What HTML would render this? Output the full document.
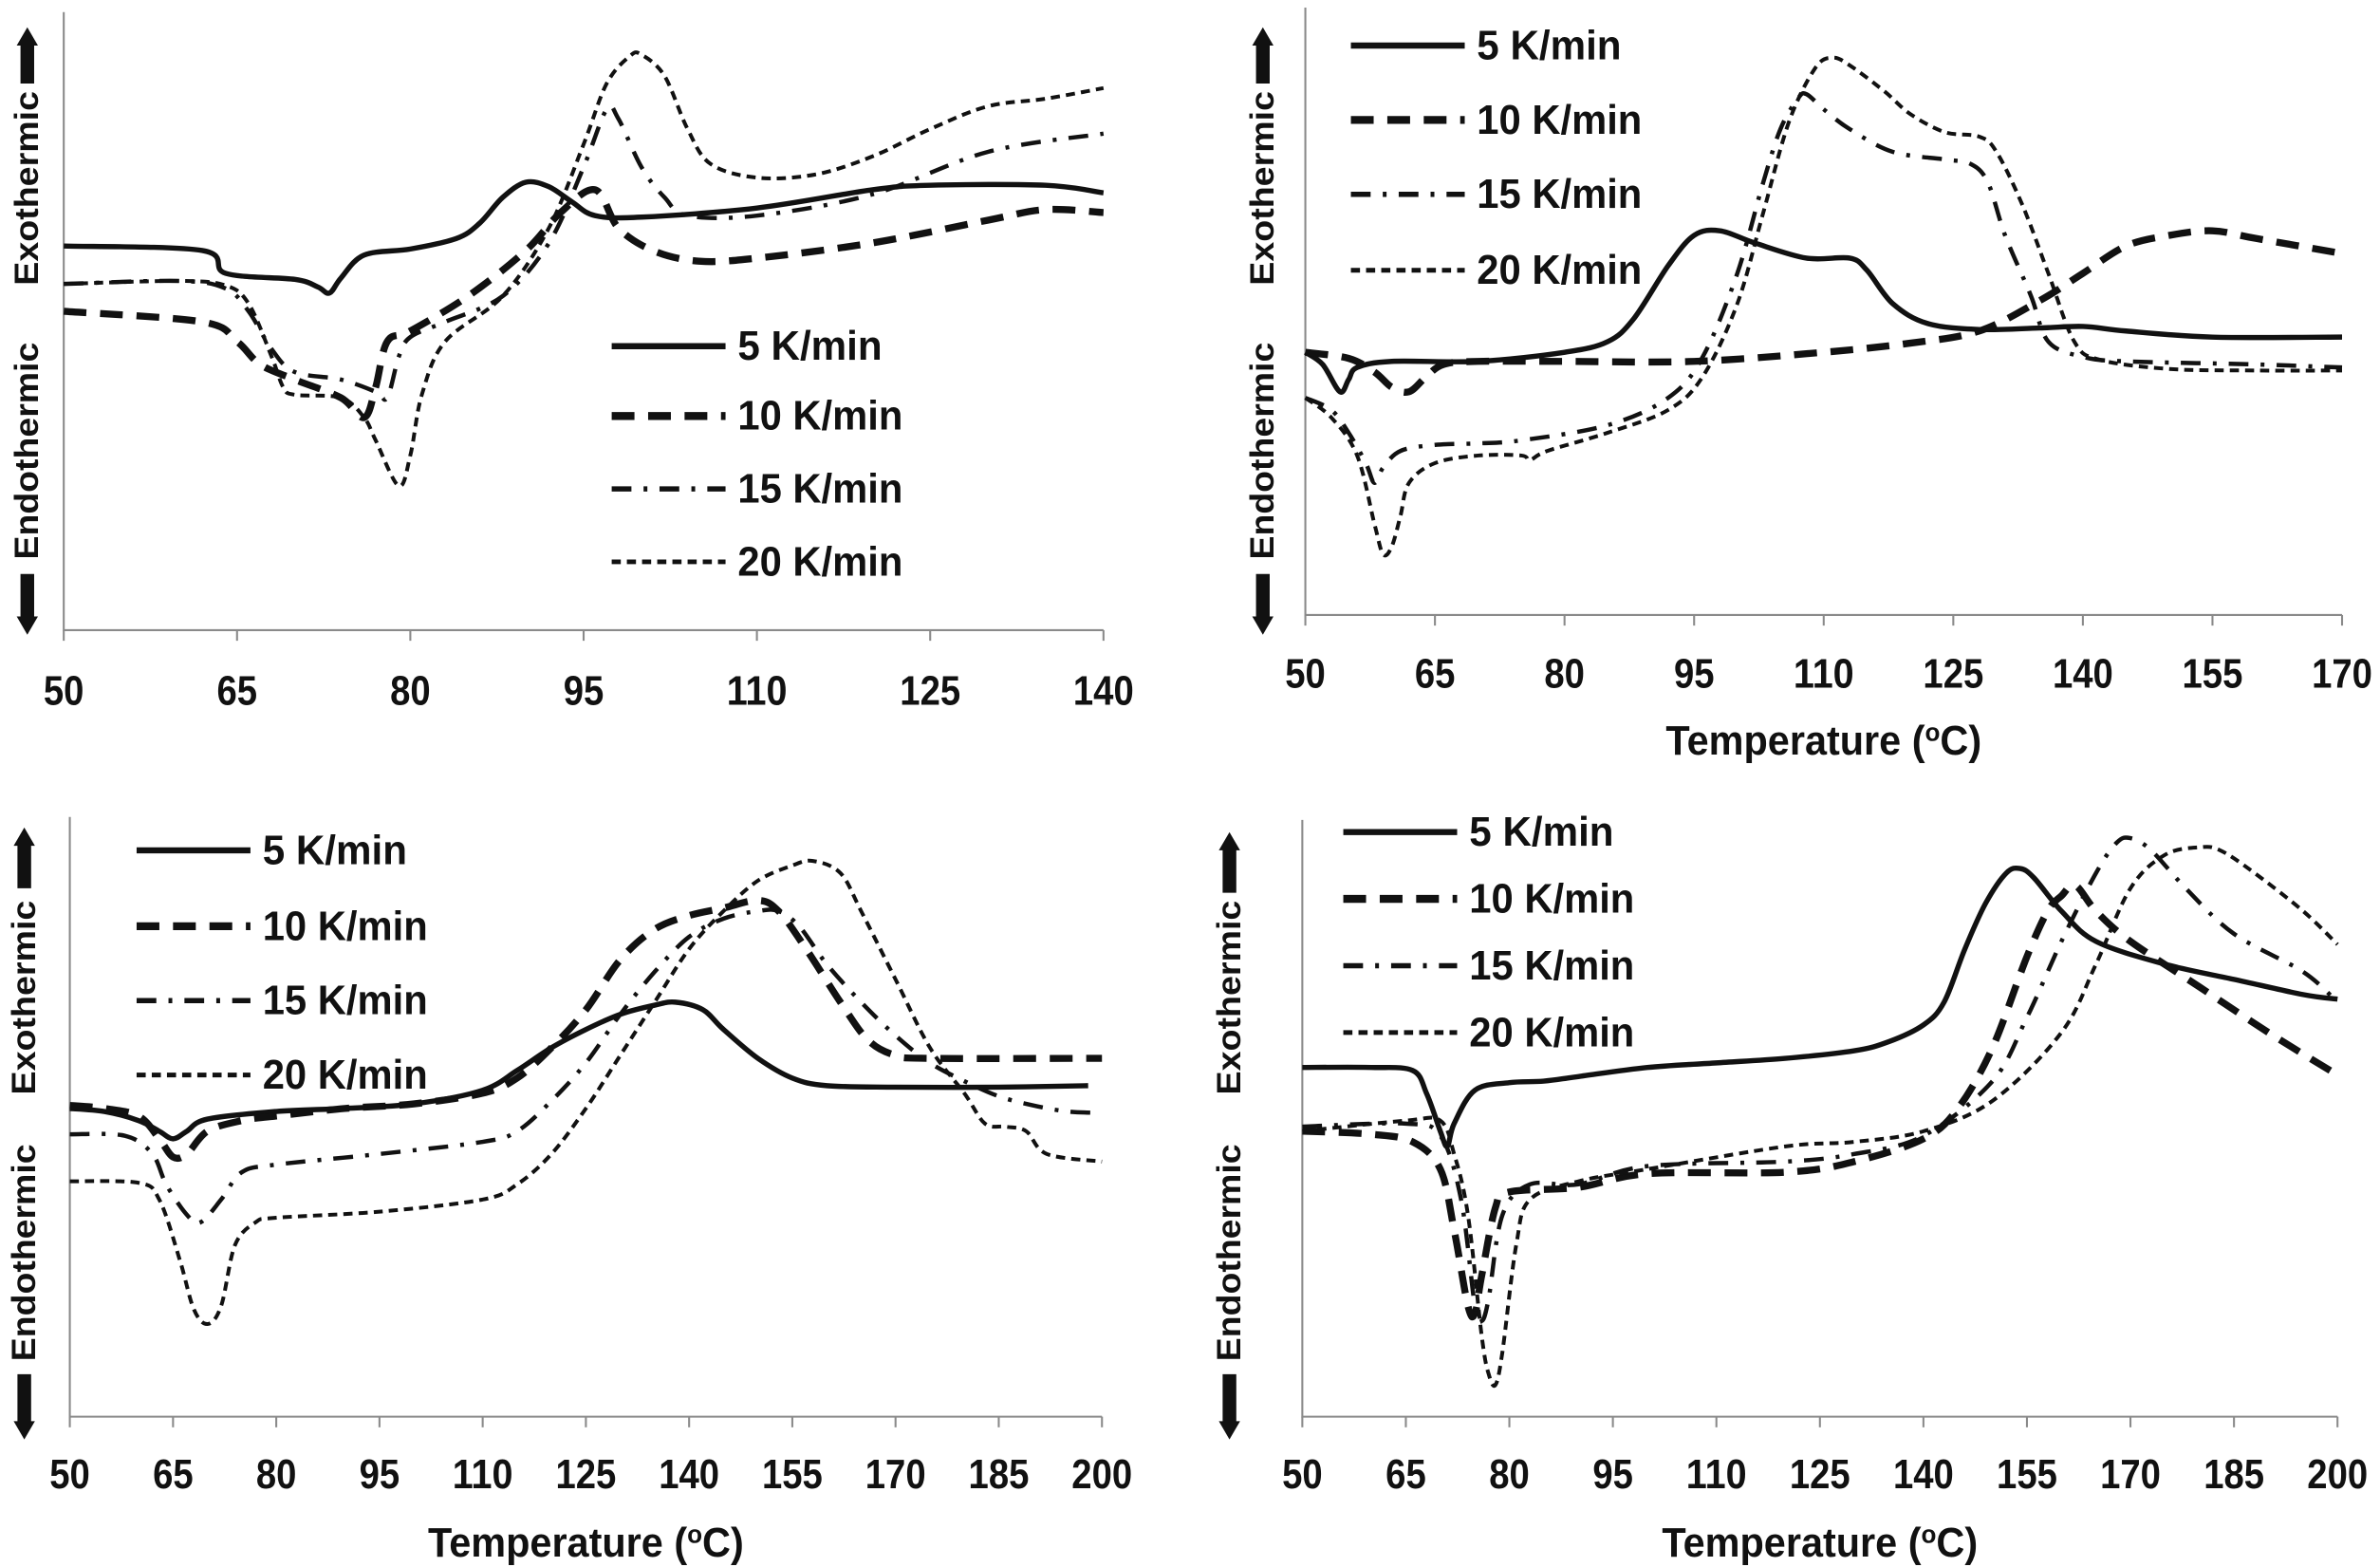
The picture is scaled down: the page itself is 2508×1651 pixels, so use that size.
<!DOCTYPE html>
<html><head><meta charset="utf-8"><style>
html,body{margin:0;padding:0;background:#fff;}
svg{display:block;}
text{font-family:"Liberation Sans",sans-serif;font-weight:bold;fill:#111;}
</style></head><body>
<svg id="fig" width="2508" height="1651" viewBox="0 0 1568 1032" preserveAspectRatio="none" xmlns="http://www.w3.org/2000/svg"></svg>
<script>
// ---- Panel A data (heat flow in arbitrary units, temperature in °C) ----
const a_t5=[50,62,64,70,72,73,74,76,80,84,86,88,90,92,94,96,100,110,120,125,135,140];
const a_v5=[253,250,235,231,226,222,232,247,251,258,268,285,295,292,282,273,272,278,290,293,293,288];
const a_t10=[50,62,65,67,70,74,76,77,78,80,85,90,93,96,98,101,105,110,120,130,135,140];
const a_v10=[210,203,190,175,165,153,140,160,190,197,220,250,275,290,265,250,243,245,255,270,277,275];
const a_t15=[50,60,64,66,68,70,74,77,78,79,80,83,88,92,95,97,98,100,102,104,110,120,130,140];
const a_v15=[228,230,225,210,185,170,165,157,153,180,193,203,220,255,305,343,337,305,285,273,273,287,315,327];
const a_t20=[50,60,64,66,68,69,70,74,76,77,79,80,81,83,88,92,95,97,99,100,102,104,106,110,115,120,125,130,135,140];
const a_v20=[228,230,227,215,180,160,155,153,140,125,95,115,155,190,220,265,320,360,378,379,365,330,307,298,300,312,330,345,350,357];
// ---- Panel B ----
const b_t5=[50,52,54,55,56,60,70,80,85,88,92,95,98,102,108,113,115,118,122,128,135,140,145,155,170];
const b_v5=[173,165,147,155,163,167,167,173,180,195,230,250,253,245,235,235,227,205,192,188,189,190,187,183,183];
const b_t10=[50,55,58,60,62,64,66,70,80,95,110,120,128,135,140,145,150,155,160,170];
const b_v10=[173,169,160,150,147,157,165,167,167,167,173,179,187,207,225,243,250,253,248,238];
const b_t15=[50,53,55,57,58,59,61,65,70,75,85,92,96,100,103,105,107,108,110,113,118,124,127,129,131,134,136,140,145,160,170];
const b_v15=[143,135,120,100,87,97,108,112,113,115,125,143,170,225,285,320,340,343,333,320,305,300,297,285,250,210,180,170,167,165,163];
const b_t20=[50,53,56,58,59,60,61,62,65,70,75,76,78,85,92,96,100,103,106,109,111,113,117,120,124,128,130,133,136,139,142,150,160,170];
const b_v20=[143,130,105,60,40,45,65,87,100,105,105,102,108,120,135,157,205,265,325,360,367,362,345,330,318,315,305,270,225,180,168,162,161,161];
// ---- Panel C ----
const c_t5=[50,55,60,63,65,67,70,80,90,100,110,115,120,125,130,135,138,142,145,150,155,160,170,185,198];
const c_v5=[203,201,195,188,183,188,196,201,203,206,215,228,243,255,265,271,273,268,255,236,223,218,217,217,218];
const c_t10=[50,55,60,63,65,67,70,75,80,90,100,110,115,120,125,130,135,140,145,150,153,157,162,166,170,175,200];
const c_v10=[205,203,198,183,171,173,188,195,198,203,206,213,223,243,268,301,321,330,335,340,333,308,273,248,238,236,236];
const c_t15=[50,58,62,64,67,69,72,75,80,95,110,115,120,125,130,135,140,145,150,153,156,160,165,170,175,180,185,190,195,200];
const c_v15=[186,185,173,153,133,128,143,161,166,173,181,188,208,233,265,293,316,328,333,333,323,298,273,251,233,221,211,205,201,200];
const c_t20=[50,60,63,66,68,70,72,74,77,80,95,110,115,120,125,130,135,140,145,150,155,158,162,165,170,175,180,183,186,189,192,200];
const c_v20=[155,154,143,103,71,61,73,113,128,131,135,143,153,173,203,238,273,308,333,353,363,366,358,333,288,243,213,193,191,188,173,168];
// ---- Panel D ----
const d_t5=[50,60,66,68,70,71,72,75,80,85,90,100,110,120,130,135,140,143,146,149,152,154,156,160,165,175,185,195,200];
const d_v5=[230,230,228,213,188,178,193,215,220,221,224,230,233,236,241,247,258,273,308,338,358,361,355,333,313,298,288,278,275];
const d_t10=[50,60,66,70,72,74,75,76,78,80,90,100,120,130,140,145,150,155,158,160,162,165,170,180,190,200];
const d_v10=[188,186,181,163,123,73,68,93,138,148,151,160,161,168,183,203,243,303,333,343,350,333,313,283,253,225];
const d_t15=[50,65,70,73,75,76,77,79,83,90,100,120,130,140,150,155,160,165,168,170,173,178,185,195,200];
const d_v15=[191,193,185,143,73,63,78,133,153,153,165,168,173,185,221,263,313,358,378,381,373,348,318,293,273];
const d_t20=[50,65,70,72,74,76,77,78,79,81,83,90,100,120,130,140,150,160,165,170,175,180,183,188,195,200];
const d_v20=[188,195,195,173,133,53,28,21,43,113,143,155,163,178,181,188,208,253,298,348,370,375,373,358,333,311];

const seriesLabels=["5 K/min","10 K/min","15 K/min","20 K/min"];
const ticksA=[50,65,80,95,110,125,140];
const ticksB=[50,65,80,95,110,125,140,155,170];
const ticksCD=[50,65,80,95,110,125,140,155,170,185,200];

const styles=[
 {w:3.4,dash:null},
 {w:4.6,dash:"15,9"},
 {w:2.8,dash:"13,8,2.5,8"},
 {w:2.5,dash:"6,4"}
];
const panels=[
 {id:"a",x0:42,x1:727,bottom:415,top:8,tmin:50,tmax:140,ticks:ticksA,data:[[a_t5,a_v5],[a_t10,a_v10],[a_t15,a_v15],[a_t20,a_v20]],
  leg:{x:403,x2:478,ys:[228,274,322,370]},tickY:464,title:null,lab:{x:18,exo:124,endo:297,up:[18,55],down:[378,418]}},
 {id:"b",x0:860,x1:1543,bottom:405,top:5,tmin:50,tmax:170,ticks:ticksB,data:[[b_t5,b_v5],[b_t10,b_v10],[b_t15,b_v15],[b_t20,b_v20]],
  leg:{x:890,x2:965,ys:[30,79,128,178]},tickY:453,title:497,lab:{x:832,exo:124,endo:297,up:[18,55],down:[378,418]}},
 {id:"c",x0:46,x1:726,bottom:933,top:538,tmin:50,tmax:200,ticks:ticksCD,data:[[c_t5,c_v5],[c_t10,c_v10],[c_t15,c_v15],[c_t20,c_v20]],
  leg:{x:90,x2:165,ys:[560,610,659,708]},tickY:980,title:1025,lab:{x:16,exo:657,endo:825,up:[545,585],down:[905,948]}},
 {id:"d",x0:858,x1:1540,bottom:933,top:540,tmin:50,tmax:200,ticks:ticksCD,data:[[d_t5,d_v5],[d_t10,d_v10],[d_t15,d_v15],[d_t20,d_v20]],
  leg:{x:885,x2:960,ys:[548,592,636,680]},tickY:980,title:1025,lab:{x:810,exo:657,endo:825,up:[548,588],down:[905,948]}}
];
const NS="http://www.w3.org/2000/svg";
const svg=document.getElementById("fig");
function mk(tag,attrs,parent){const e=document.createElementNS(NS,tag);for(const k in attrs)e.setAttribute(k,attrs[k]);(parent||svg).appendChild(e);return e;}
function smooth(pts){
 let d="M"+pts[0][0].toFixed(1)+","+pts[0][1].toFixed(1);
 for(let i=0;i<pts.length-1;i++){
  const p0=pts[i-1]||pts[i],p1=pts[i],p2=pts[i+1],p3=pts[i+2]||p2;
  const c1=[p1[0]+(p2[0]-p0[0])/6,p1[1]+(p2[1]-p0[1])/6];
  const c2=[p2[0]-(p3[0]-p1[0])/6,p2[1]-(p3[1]-p1[1])/6];
  d+=" C"+c1[0].toFixed(1)+","+c1[1].toFixed(1)+" "+c2[0].toFixed(1)+","+c2[1].toFixed(1)+" "+p2[0].toFixed(1)+","+p2[1].toFixed(1);
 }
 return d;
}
function arrow(x,y1,y2,up,g){
 const d=up?`M${x},${y1} L${x+7},${y1+12} L${x+4.5},${y1+12} L${x+4.5},${y2} L${x-4.5},${y2} L${x-4.5},${y1+12} L${x-7},${y1+12} Z`
           :`M${x},${y2} L${x+7},${y2-12} L${x+4.5},${y2-12} L${x+4.5},${y1} L${x-4.5},${y1} L${x-4.5},${y2-12} L${x-7},${y2-12} Z`;
 return mk("path",{d:d,fill:"#111"},g);
}
panels.forEach(p=>{
 const g=mk("g",{});
 
 
 const xS=t=>p.x0+(t-p.tmin)/(p.tmax-p.tmin)*(p.x1-p.x0);
 const vRange=p.bottom-p.top;
 const yS=v=>p.bottom-v/vRange*(p.bottom-p.top);
 const ax=mk("path",{d:`M${p.x0},${p.top} L${p.x0},${p.bottom} L${p.x1},${p.bottom}`,fill:"none",stroke:"#8a8a8a","stroke-width":1.3},g);
 
 
 p.ticks.forEach(t=>{
  const x=xS(t);
  const tk=mk("line",{x1:x,y1:p.bottom,x2:x,y2:p.bottom+7,stroke:"#8a8a8a","stroke-width":1.3},g);
  
  
  const s=String(t);
  const tl=mk("text",{x:x,y:p.tickY,"text-anchor":"middle","font-size":27,textLength:s.length*13.3,lengthAdjust:"spacingAndGlyphs"},g);
  tl.textContent=s;
  
  
 });
 if(p.title){
  const tt=mk("text",{x:(p.x0+p.x1)/2,y:p.title,"text-anchor":"middle","font-size":27,textLength:208,lengthAdjust:"spacingAndGlyphs"},g);
  tt.innerHTML='Temperature (<tspan font-size="17" dy="-9">o</tspan><tspan dy="9">C)</tspan>';
  
  
 }
 const ex=mk("text",{x:0,y:0,"text-anchor":"middle","font-size":22,textLength:128,lengthAdjust:"spacingAndGlyphs",transform:`translate(${p.lab.x+7},${p.lab.exo}) rotate(-90)`},g);
 ex.textContent="Exothermic";
 
 
 const en=mk("text",{x:0,y:0,"text-anchor":"middle","font-size":22,textLength:143,lengthAdjust:"spacingAndGlyphs",transform:`translate(${p.lab.x+7},${p.lab.endo}) rotate(-90)`},g);
 en.textContent="Endothermic";
 
 
 const au=arrow(p.lab.x,p.lab.up[0],p.lab.up[1],true,g);
 
 
 const ad=arrow(p.lab.x,p.lab.down[0],p.lab.down[1],false,g);
 
 
 p.data.forEach((s,i)=>{
  const pts=s[0].map((t,j)=>[xS(t),yS(s[1][j])]);
  const at={d:smooth(pts),fill:"none",stroke:"#111","stroke-width":styles[i].w,"stroke-linejoin":"round"};
  if(styles[i].dash)at["stroke-dasharray"]=styles[i].dash;
  const ln=mk("path",at,g);
  
  
  const y=p.leg.ys[i];
  const la={x1:p.leg.x,y1:y,x2:p.leg.x2,y2:y,stroke:"#111","stroke-width":styles[i].w+0.6};
  if(styles[i].dash)la["stroke-dasharray"]=styles[i].dash;
  const ll=mk("line",la,g);
  
  
  const lbl=seriesLabels[i];
  const lt=mk("text",{x:p.leg.x2+8,y:y+9,"font-size":27,textLength:lbl.length*13.6,lengthAdjust:"spacingAndGlyphs"},g);
  lt.textContent=lbl;
  
  
 });
});
</script>
</body></html>
